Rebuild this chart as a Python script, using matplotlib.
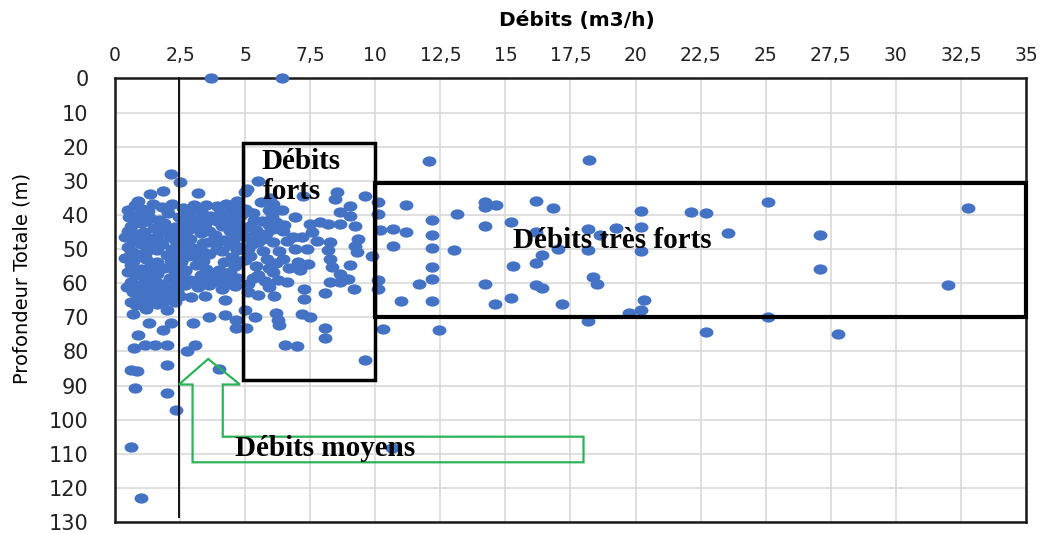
import matplotlib
matplotlib.use("Agg")
import matplotlib.pyplot as plt
from matplotlib.path import Path
from matplotlib.patches import Rectangle, Polygon
import numpy as np

# ---- data: well discharge (m3/h) vs total depth (m) ----
# dense group, low discharge
debit_a = [0.75, 1.05, 1.45, 1.8, 2.2, 2.6, 3.05, 3.5, 3.9, 4.25, 4.6,
           0.55, 0.95, 1.35, 2.05, 2.45, 2.85, 3.25, 3.65, 4.05, 4.45, 4.85,
           0.6, 1.0, 1.5, 1.9, 2.3, 2.7, 3.1, 3.45, 4.1, 4.5, 4.9,
           0.9, 1.3, 1.7, 2.1, 2.5, 2.9, 3.3, 3.85, 4.2, 4.6, 5.0,
           0.5, 1.0, 1.4, 1.8, 2.2, 2.6, 3.0, 3.4, 3.9, 4.4, 4.8,
           0.4, 0.8, 1.2, 2.0, 2.4, 2.8, 3.2, 3.6, 4.5, 5.0,
           0.6, 1.0, 1.4, 1.9, 2.3, 2.7, 3.1, 3.5, 4.0, 4.6,
           0.8, 1.2, 1.6, 2.1, 2.5, 2.9, 3.3, 3.8, 4.2, 4.7,
           0.95, 1.4, 1.8, 2.2, 2.7, 3.2, 3.6, 4.1, 4.6,
           0.9, 1.3, 1.7, 2.1, 2.5,
           0.8, 1.2, 1.6, 2.0]
prof_a = [37.0, 38.2, 36.8, 37.6, 36.9, 38.0, 37.2, 37.0, 37.5, 36.8, 37.8,
          40.5, 39.6, 40.8, 39.4, 40.6, 39.8, 41.0, 40.2, 39.5, 40.9, 40.0,
          43.2, 42.5, 43.8, 42.3, 43.5, 42.7, 43.9, 42.6, 43.3, 42.4, 44.0,
          45.6, 46.8, 45.2, 46.4, 45.5, 47.0, 45.3, 45.9, 47.2, 45.7, 46.6,
          49.3, 48.4, 49.8, 48.6, 50.0, 48.8, 49.6, 48.3, 49.9, 48.7, 49.5,
          52.5, 51.4, 52.9, 51.6, 53.0, 51.9, 52.6, 51.3, 52.2, 53.1,
          54.7, 55.9, 54.4, 55.5, 54.8, 56.0, 54.6, 55.7, 56.2, 54.9,
          57.6, 58.8, 57.3, 58.5, 57.8, 59.0, 57.5, 58.4, 57.9, 58.6,
          60.4, 61.7, 60.2, 61.5, 60.6, 61.2, 60.4, 61.8, 60.9,
          63.8, 64.9, 63.4, 64.6, 63.7,
          66.4, 67.5, 66.2, 67.8]

# more wells inside the dense group
debit_e = [0.5, 1.25, 2.0, 2.8, 3.3, 4.45, 5.0,
           0.8, 1.2, 1.7, 2.6, 3.0, 3.9, 4.3, 4.7,
           0.5, 1.1, 2.0, 2.4, 2.8, 3.6, 4.4, 4.8,
           0.7, 1.15, 1.6, 2.35, 2.75, 3.6, 4.0, 4.55,
           0.6, 1.2, 1.6, 2.4, 2.9, 3.4, 4.1, 4.7,
           0.7, 1.6, 2.15, 2.55, 3.4, 4.2, 4.8,
           0.5, 1.05, 1.5, 2.3, 2.7, 3.6, 4.4,
           0.6, 1.1, 1.55, 2.35, 3.0, 3.4, 3.95, 4.4,
           0.7, 1.15, 1.55, 1.95, 2.4,
           0.6, 1.0, 1.5, 1.85, 2.3,
           5.35, 5.9, 5.25, 5.7, 6.2, 5.3, 5.75, 6.2, 5.95, 6.4, 6.9, 6.5, 6.7]
prof_e = [38.6, 38.8, 38.4, 38.7, 38.5, 38.6, 38.3,
          41.6, 41.9, 41.4, 41.7, 41.5, 41.8, 41.3, 41.9,
          44.6, 44.9, 44.5, 44.8, 44.4, 44.7, 44.6, 44.3,
          47.6, 47.9, 47.4, 47.7, 47.5, 47.8, 47.6, 47.3,
          50.6, 50.9, 50.4, 50.7, 50.5, 50.8, 50.6, 50.3,
          53.6, 53.9, 53.4, 53.7, 53.5, 53.8, 53.6,
          56.6, 56.9, 56.4, 56.7, 56.5, 56.8, 56.6,
          59.6, 59.9, 59.4, 59.7, 59.5, 59.8, 59.6, 59.3,
          62.5, 62.8, 62.3, 62.6, 62.4,
          65.5, 65.8, 65.3, 65.6, 65.4,
          41.5, 43.0, 48.5, 47.0, 54.0, 58.5, 59.5, 42.0, 35.0, 38.5, 40.5,
          43.0, 55.5]

# scattered low-discharge wells
debit_b = [3.7, 6.4, 2.15, 2.5, 0.9, 1.34, 1.86, 3.2, 0.5, 4.99, 4.67, 0.38,
           0.48, 0.7, 1.3, 1.86, 2.15, 3.0, 0.9, 0.72, 1.15, 1.55, 2.0,
           2.78, 3.08, 0.61, 0.85, 1.98, 3.98, 0.78, 2.0, 2.33, 0.63, 1.0,
           2.92, 3.45, 4.22, 3.6, 4.22, 4.65, 4.65, 4.29, 3.65]
prof_b = [0.0, 0.0, 28.1, 30.2, 35.9, 33.9, 33.0, 33.7, 46.5, 33.4, 35.9, 46.5,
          61.1, 69.1, 71.8, 73.7, 71.6, 71.8, 75.2, 79.0, 78.1, 78.1, 78.1,
          79.8, 78.2, 85.4, 85.6, 84.1, 85.3, 90.7, 92.1, 97.1, 108.0, 123.1,
          64.0, 63.9, 65.0, 69.8, 69.3, 70.8, 73.2, 60.1, 59.2]

# medium discharge wells (5 - 10 m3/h)
debit_c = [5.5, 5.06, 6.08, 5.6, 7.23, 8.52, 9.6, 8.45, 9.03, 8.64, 9.03, 9.22,
           7.49, 7.88, 8.2, 8.64, 6.02, 6.08, 6.08, 6.85, 7.17, 7.56, 7.75,
           8.26, 8.2, 9.35, 9.22, 9.28, 7.36, 7.04, 7.43, 7.11, 6.47, 8.26,
           8.33, 8.64, 9.03, 5.12, 5.5, 5.83, 6.08, 8.64, 8.26, 6.27, 5.5,
           5.19, 5.31, 5.06, 5.64, 5.12, 5.12, 6.6, 6.1, 7.25, 7.25, 8.05,
           8.96, 9.2, 5.0, 5.38, 5.03, 6.2, 6.32, 6.28, 7.2, 7.5, 8.05, 8.05,
           6.52, 7.0, 9.6, 5.3, 5.9, 5.4, 5.8, 5.2, 5.7, 5.4, 5.9, 6.3, 5.9,
           5.5, 6.45, 6.6, 6.9, 9.87]
prof_c = [30.0, 32.5, 36.8, 36.3, 34.4, 33.4, 34.4, 35.4, 37.3, 39.2, 40.2,
          43.1, 42.6, 42.0, 42.6, 42.6, 40.2, 44.1, 48.0, 46.5, 46.5, 45.1,
          47.5, 48.0, 50.4, 47.0, 49.0, 50.9, 49.9, 53.8, 54.3, 56.2, 52.8,
          52.8, 55.3, 57.2, 54.8, 49.9, 48.0, 52.8, 56.7, 59.6, 59.6, 59.2,
          57.7, 43.1, 46.1, 38.8, 41.7, 60.1, 62.5, 59.6, 63.8, 61.6, 64.5,
          62.8, 58.7, 61.6, 67.9, 69.8, 73.2, 68.7, 72.3, 70.8, 68.9, 69.8,
          73.2, 76.1, 78.1, 78.3, 82.4, 39.5, 38.5, 44.5, 45.5, 52.0, 50.5,
          55.0, 55.5, 50.5, 61.0, 63.5, 44.6, 47.5, 50.0, 51.9]

# high discharge wells (> 10 m3/h)
debit_d = [12.05, 18.2, 10.1, 10.1, 10.2, 10.1, 10.1, 11.18, 10.67, 11.18,
           10.67, 12.17, 12.17, 12.17, 12.17, 12.17, 11.68, 12.17, 10.98,
           13.15, 13.02, 14.21, 14.21, 14.64, 14.21, 15.21, 15.3, 14.21,
           15.21, 14.6, 10.3, 12.45, 16.16, 16.82, 20.2, 22.13, 22.7, 25.1,
           32.76, 16.16, 18.18, 18.63, 19.25, 20.2, 23.56, 27.08, 17.03,
           18.18, 20.2, 16.39, 16.16, 27.08, 18.38, 18.5, 16.16, 16.39, 32.0,
           17.16, 20.32, 20.2, 19.76, 18.18, 25.1, 22.7, 27.79, 10.63]
prof_d = [24.1, 23.8, 36.3, 39.7, 44.3, 59.2, 61.6, 37.1, 44.1, 45.1, 49.0,
          41.4, 45.9, 49.6, 55.3, 58.9, 60.1, 65.3, 65.3, 39.8, 50.2, 36.3,
          37.8, 37.1, 43.3, 42.2, 55.0, 60.1, 64.3, 66.1, 73.5, 73.8, 36.0,
          38.1, 38.8, 39.1, 39.4, 36.1, 38.1, 45.0, 44.1, 45.9, 43.8, 43.4,
          45.3, 46.0, 49.9, 50.4, 50.7, 51.7, 54.0, 55.9, 58.2, 60.1, 60.6,
          61.4, 60.4, 66.1, 65.0, 67.9, 68.6, 71.1, 69.8, 74.2, 74.9, 108.4]

x_ticks = [0, 2.5, 5, 7.5, 10, 12.5, 15, 17.5, 20, 22.5, 25, 27.5, 30, 32.5, 35]
x_tick_labels = ["0", "2,5", "5", "7,5", "10", "12,5", "15", "17,5", "20",
                 "22,5", "25", "27,5", "30", "32,5", "35"]
y_ticks = list(range(0, 131, 10))

debit = debit_a + debit_e + debit_b + debit_c + debit_d
profondeur = prof_a + prof_e + prof_b + prof_c + prof_d

# ---- figure ----
fig = plt.figure(figsize=(10.55, 5.34), dpi=100)
ax = fig.add_axes([0.1090, 0.0225, 0.8635, 0.8305])
ax.set_xlim(0, 35)
ax.set_ylim(130, 0)

ax.xaxis.tick_top()
ax.set_xticks(x_ticks)
ax.set_xticklabels(x_tick_labels, fontsize=13.5)
ax.set_yticks(y_ticks)
ax.set_yticklabels([str(v) for v in y_ticks], fontsize=15)
ax.tick_params(axis="x", length=0, pad=10, colors="#222222")
ax.tick_params(axis="y", length=0, pad=19, colors="#222222")
ax.grid(True, color="#d9d9d9", lw=1.2)
ax.set_axisbelow(True)
for sp in ax.spines.values():
    sp.set_color("#1a1a1a")
    sp.set_linewidth(1.8)

ax.set_xlabel("Débits (m3/h)", fontsize=14.5, fontweight="bold")
ax.xaxis.set_label_position("top")
ax.xaxis.set_label_coords(0.507, 1.131)
ax.xaxis.label.set_verticalalignment("center")
ax.set_ylabel("Profondeur Totale (m)", fontsize=14)
ax.yaxis.set_label_coords(-0.102, 0.549)
ax.yaxis.label.set_verticalalignment("center")

# slightly wide elliptical markers
circ = Path.unit_circle()
ellipse = Path(circ.vertices * np.array([1.35, 1.0]), circ.codes)
ax.scatter(debit, profondeur, marker=ellipse, s=100, color="#4472C4",
           linewidths=0, zorder=3, clip_on=False)

# 2.5 m3/h threshold line
ax.plot([2.45, 2.45], [0, 128.5], color="#111111", lw=1.4, zorder=4,
        clip_on=False)

# class boxes
ax.add_patch(Rectangle((4.93, 18.8), 10.0 - 4.93, 88.5 - 18.8, fill=False,
                       edgecolor="black", lw=2.5, zorder=5, clip_on=False))
ax.add_patch(Rectangle((10.0, 30.5), 35.0 - 10.0, 69.8 - 30.5, fill=False,
                       edgecolor="black", lw=3.0, zorder=5, clip_on=False))

# bent arrow pointing at the medium class
arrow_pts = [(3.58, 82.2), (4.80, 89.7), (4.14, 89.7), (4.14, 105.0),
             (18.0, 105.0), (18.0, 112.5), (2.98, 112.5), (2.98, 89.7),
             (2.46, 89.7)]
ax.add_patch(Polygon(arrow_pts, closed=True, fill=False, edgecolor="#2bb35a",
                     lw=1.6, zorder=5, joinstyle="miter"))

serif = dict(family="Liberation Serif", fontweight="bold", fontsize=21,
             color="black", zorder=6, va="baseline", ha="left")
ax.text(5.63, 26.6, "Débits", **serif)
ax.text(5.67, 35.4, "forts", **serif)
ax.text(15.29, 49.7, "Débits très forts", **serif)
ax.text(4.61, 110.6, "Débits moyens", **serif)

fig.savefig("out.png", dpi=100, facecolor="white")
